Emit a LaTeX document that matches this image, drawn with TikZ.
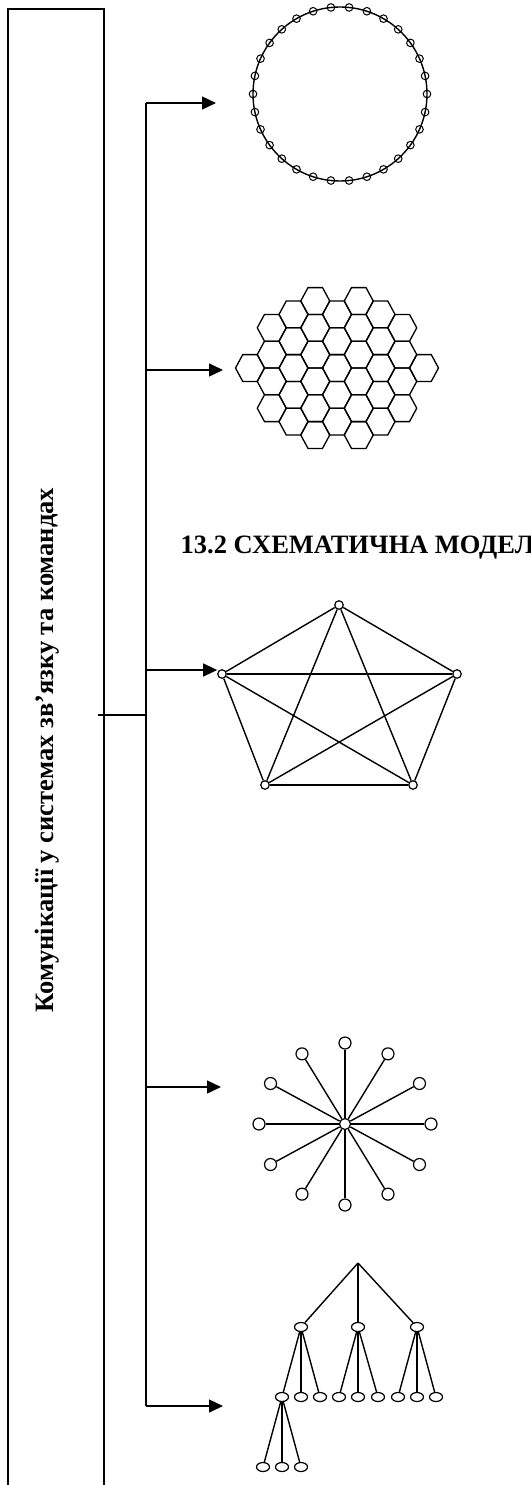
\documentclass[tikz,border=0pt]{standalone}
\usepackage{fontspec}
\setmainfont{Liberation Serif}
\usetikzlibrary{arrows.meta,shapes.geometric}
\tikzset{
  knot/.style={circle,draw,fill=white,inner sep=0pt,minimum size=8.5pt,line width=1.2pt},
  ray/.style={circle,draw,fill=white,inner sep=0pt,minimum size=12pt,line width=1.2pt},
  leaf/.style={ellipse,draw,fill=white,inner sep=0pt,minimum width=13pt,minimum height=9pt,line width=1.2pt},
  feed/.style={-{Triangle[length=14pt,width=13pt]}},
  big/.style={font=\fontsize{26.5}{30}\selectfont\bfseries,inner sep=0pt}
}

\begin{document}
\begin{tikzpicture}[x=1pt,y=-1pt,line width=1.4pt]
\useasboundingbox (0,0) rectangle (530,1485);

\draw[line width=1.6pt] (8,1485) -- (8,9) -- (104,9) -- (104,1485);
\node[big,rotate=90,anchor=base west] (label) at (53,1013) {Комунікації у системах зв’язку та командах};
\node[big,anchor=base west] (title) at (180,553) {13.2 СХЕМАТИЧНА МОДЕЛ};

\coordinate (out) at (98,715);
\coordinate (b0) at (146,715);
\coordinate (b1) at (146,103);
\coordinate (b2) at (146,370);
\coordinate (b3) at (146,670);
\coordinate (b4) at (146,1087);
\coordinate (b5) at (146,1406);
\coordinate (ringin) at (216,103);
\coordinate (hexin) at (223,370);
\coordinate (starin) at (221,1087);
\coordinate (treein) at (223,1406);

\draw (b1) -- (b5);
\draw (out) -- (b0);

\draw (340,94) circle (87pt);
\foreach \a in {0,12,...,348}
  \draw[line width=1pt] ([shift={(\a:87)}]340,94) circle (3.8pt);

\foreach \c/\lo/\hi in {0/0/0,1/-1.5/1.5,2/-2/2,3/-2.5/2.5,4/-2/2,5/-2.5/2.5,6/-2/2,7/-1.5/1.5,8/0/0}
  \foreach \k in {\lo,...,\hi}
    \draw[line width=1.3pt] ({250+21.75*\c-14.5},{368+26.8*\k}) -- ++(7.25,-13.4) -- ++(14.5,0)
      -- ++(7.25,13.4) -- ++(-7.25,13.4) -- ++(-14.5,0) -- cycle;

\node[knot] (p1) at (339,605) {};
\node[knot] (p2) at (457,674) {};
\node[knot] (p3) at (413,785) {};
\node[knot] (p4) at (265,785) {};
\node[knot] (p5) at (222,674) {};
\foreach \i/\j in {1/2,1/3,1/4,1/5,2/3,2/4,2/5,3/4,3/5,4/5}
  \draw (p\i) -- (p\j);

\node[knot,minimum size=11pt] (hub) at (345,1124) {};
\foreach \a in {0,30,...,330} {
  \node[ray] (s\a) at ([shift={(\a:86 and 81)}]345,1124) {};
  \draw (hub) -- (s\a);
}

\coordinate (top) at (358,1263);
\node[leaf] (t1) at (301,1327) {};
\node[leaf] (t2) at (358,1327) {};
\node[leaf] (t3) at (417,1327) {};
\foreach \n in {1,2,3}
  \draw (top) -- (t\n);
\foreach \i/\x in {1/282,2/301,3/320,4/339,5/358,6/378,7/398,8/417,9/436}
  \node[leaf] (u\i) at (\x,1397) {};
\foreach \p/\i in {1/1,1/2,1/3,2/4,2/5,2/6,3/7,3/8,3/9}
  \draw (t\p) -- (u\i);
\foreach \i/\x in {1/263,2/282,3/301} {
  \node[leaf] (v\i) at (\x,1467) {};
  \draw (u1) -- (v\i);
}

\draw[feed] (b1) -- (ringin);
\draw[feed] (b2) -- (hexin);
\draw[feed] (b3) -- (b3 -| p5.west);
\draw[feed] (b4) -- (starin);
\draw[feed] (b5) -- (treein);

\end{tikzpicture}
\end{document}
